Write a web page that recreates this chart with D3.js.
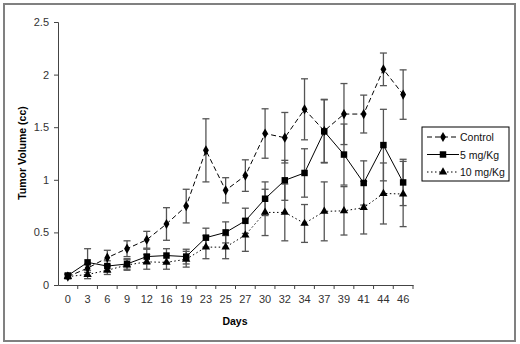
<!DOCTYPE html>
<html>
<head>
<meta charset="utf-8">
<script src="https://cdn.jsdelivr.net/npm/d3@7"></script>
<style>
  body { margin: 0; background: #fff; }
  svg { font-family: "Liberation Sans", Arial, sans-serif; }
</style>
</head>
<body>
<svg id="chart"></svg>
<script>
// data
const days = ["0","3","6","9","12","16","19","23","25","27","30","32","34","37","39","41","44","46"];
const control    = [0.08,0.16,0.26,0.345,0.43,0.58,0.75,1.28,0.90,1.04,1.44,1.40,1.67,1.465,1.625,1.625,2.05,1.81];
const controlErr = [0.02,0.04,0.07,0.075,0.08,0.155,0.16,0.30,0.12,0.15,0.235,0.24,0.29,0.30,0.29,0.18,0.155,0.235];
const mg5        = [0.09,0.215,0.18,0.20,0.27,0.28,0.27,0.45,0.50,0.61,0.82,0.995,1.065,1.46,1.24,0.97,1.33,0.975];
const mg5Err     = [0.02,0.13,0.05,0.05,0.07,0.065,0.07,0.09,0.10,0.12,0.16,0.19,0.23,0.30,0.29,0.21,0.34,0.22];
const mg10       = [0.08,0.10,0.14,0.19,0.22,0.215,0.245,0.36,0.36,0.475,0.69,0.69,0.585,0.70,0.705,0.735,0.87,0.865];
const mg10Err    = [0.02,0.04,0.04,0.05,0.07,0.065,0.075,0.11,0.11,0.155,0.22,0.27,0.18,0.28,0.23,0.25,0.29,0.31];
const yTicks = [0, 0.5, 1, 1.5, 2, 2.5];

const width = 520, height = 344;
const svg = d3.select("#chart").attr("width", width).attr("height", height);

//outer frame
svg.append("rect")
    .attr("x", 4).attr("y", 4)
    .attr("width", 511).attr("height", 337)
    .attr("fill", "none").attr("stroke", "#808080").attr("stroke-width", 2);

const x = d3.scaleBand().domain(days).range([58, 413]).padding(0);
const y = d3.scaleLinear().domain([0, 2.5]).range([285, 22]);
const cx = d => x(d) + x.bandwidth() / 2;

//axes
const yAxis = svg.append("g")
    .attr("transform", "translate(58,0)")
    .call(d3.axisLeft(y).tickValues(yTicks).tickFormat(d => d).tickSize(4).tickPadding(5));
const xAxis = svg.append("g")
    .attr("transform", "translate(0,285)")
    .call(d3.axisBottom(x).tickSize(0).tickPadding(10));
[yAxis, xAxis].forEach(a => {
    a.select(".domain").attr("stroke", "#444");
    a.selectAll("line").attr("stroke", "#444");
    a.selectAll("text").attr("fill", "#333").attr("font-size", 11)
        .attr("font-family", "Liberation Sans, Arial, sans-serif");
});
//x ticks between the categories
xAxis.selectAll(".sep")
    .data(days.slice(1).concat(["end"]))
    .join("line")
    .attr("class", "sep")
    .attr("x1", (d, i) => x(days[i]) + x.bandwidth())
    .attr("x2", (d, i) => x(days[i]) + x.bandwidth())
    .attr("y1", 0).attr("y2", 4)
    .attr("stroke", "#444");

//axis titles
svg.append("text")
    .attr("transform", "translate(26,153) rotate(-90)")
    .attr("text-anchor", "middle")
    .attr("font-size", 10.5).attr("font-weight", "bold")
    .text("Tumor Volume (cc)");
svg.append("text")
    .attr("x", 235).attr("y", 325)
    .attr("text-anchor", "middle")
    .attr("font-size", 10.5).attr("font-weight", "bold")
    .text("Days");

const series = [
    {name: "Control", vals: control, err: controlErr, dash: "5,3", shape: "diamond"},
    {name: "5 mg/Kg", vals: mg5, err: mg5Err, dash: null, shape: "square"},
    {name: "10 mg/Kg", vals: mg10, err: mg10Err, dash: "1.5,2.5", shape: "triangle"}
];

const symbols = {
    diamond: d3.symbol().type(d3.symbolDiamond).size(30),
    square: d3.symbol().type(d3.symbolSquare).size(42),
    triangle: d3.symbol().type(d3.symbolTriangle).size(30)
};

const line = d3.line().x((d, i) => cx(days[i])).y(d => y(d));

//error bars first
series.forEach(s => {
    const g = svg.append("g").attr("stroke", "#555").attr("stroke-width", 1.3);
    s.vals.forEach((v, i) => {
        const px = cx(days[i]);
        const top = y(v + s.err[i]), bot = y(v - s.err[i]);
        g.append("line").attr("x1", px).attr("x2", px).attr("y1", top).attr("y2", bot);
        g.append("line").attr("x1", px - 3.5).attr("x2", px + 3.5).attr("y1", top).attr("y2", top);
        g.append("line").attr("x1", px - 3.5).attr("x2", px + 3.5).attr("y1", bot).attr("y2", bot);
    });
});

//lines and markers
series.forEach(s => {
    svg.append("path")
        .datum(s.vals)
        .attr("d", line)
        .attr("fill", "none")
        .attr("stroke", "#000")
        .attr("stroke-width", 1)
        .attr("stroke-dasharray", s.dash);
    svg.append("g").selectAll("path")
        .data(s.vals)
        .join("path")
        .attr("transform", (d, i) => `translate(${cx(days[i])},${y(d)})`)
        .attr("d", symbols[s.shape])
        .attr("fill", "#000");
});

//legend
const lg = svg.append("g").attr("transform", "translate(422,127)");
lg.append("rect").attr("width", 87).attr("height", 54)
    .attr("fill", "#fff").attr("stroke", "#000").attr("stroke-width", 1);
series.forEach((s, i) => {
    const ry = 10 + i * 17.5;
    lg.append("line").attr("x1", 5).attr("x2", 37).attr("y1", ry).attr("y2", ry)
        .attr("stroke", "#000").attr("stroke-dasharray", s.dash);
    lg.append("path").attr("transform", `translate(21,${ry})`).attr("d", symbols[s.shape]);
    lg.append("text").attr("x", 38).attr("y", ry + 4)
        .attr("font-size", 10.5).attr("fill", "#111").text(s.name);
});
</script>
</body>
</html>
